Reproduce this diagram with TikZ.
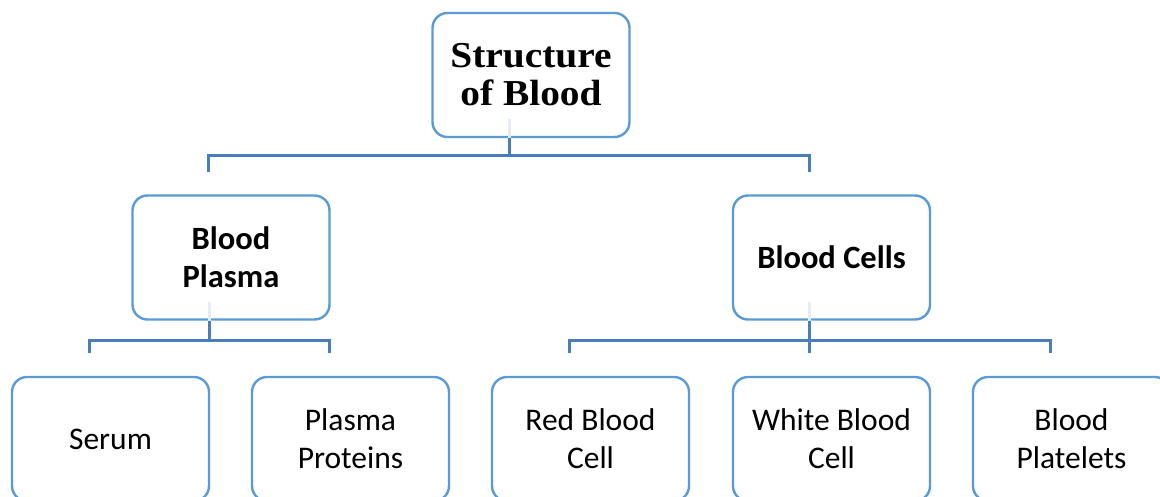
\documentclass[tikz,border=0pt]{standalone}
\usepackage{fontspec}
\setmainfont{Carlito}
\newfontfamily\titlefont[FakeStretch=1.08]{Liberation Serif}
\usetikzlibrary{calc}
\definecolor{boxblue}{HTML}{5B9BD5}
\definecolor{connblue}{HTML}{4A7EBB}
\definecolor{faintblue}{HTML}{E4ECF5}
\tikzset{
  box/.style={draw=boxblue, line width=2.4pt, rounded corners=15pt, fill=white,
    minimum width=197pt, minimum height=124pt, inner sep=0pt},
  conn/.style={draw=connblue, line width=3pt},
  faint/.style={draw=faintblue, line width=3pt},
  lab/.style={align=center, font=\fontsize{31.5}{38}\selectfont, text=black},
  blab/.style={align=center, font=\fontsize{32.5}{38}\selectfont\bfseries, text=black},
  tlab/.style={align=center, font=\titlefont\fontsize{36.5}{38}\selectfont\bfseries, text=black}
}
\begin{document}
\begin{tikzpicture}[x=1pt,y=-1pt]
\useasboundingbox (0,0) rectangle (1160,497);
\clip (0,0) rectangle (1160,497);
\fill[white] (0,0) rectangle (1160,497);
% boxes
\node[box] (top) at (531,75) {};
\node[box] (bp) at (231,257.5) {};
\node[box] (bc) at (831.5,257.5) {};
\node[box] (se) at (110.5,439) {};
\node[box] (pp) at (350.5,439) {};
\node[box] (rb) at (590.5,439) {};
\node[box] (wb) at (831.5,439) {};
\node[box] (pl) at (1071.5,439) {};
% labels
\node[tlab] at (top.center) {Structure\\of Blood};
\node[blab] at (bp.center) {Blood\\Plasma};
\node[blab] at (bc.center) {Blood Cells};
\node[lab] at (se.center) {Serum};
\node[lab] at (pp.center) {Plasma\\Proteins};
\node[lab] at (rb.center) {Red Blood\\Cell};
\node[lab] at (wb.center) {White Blood\\Cell};
\node[lab] at (pl.center) {Blood\\Platelets};
% connector coordinates
\coordinate (t1) at ($(top.south)+(-22,0)$);
\coordinate (h1) at (509,156);
\coordinate (bpd) at ($(bp.north)+(-23,-22)$);
\coordinate (bcd) at ($(bc.north)+(-22,-22)$);
\coordinate (b2) at ($(bp.south)+(-22,0)$);
\coordinate (c2) at ($(bc.south)+(-22,0)$);
\coordinate (sed) at ($(se.north)+(-21,-23)$);
\coordinate (ppd) at ($(pp.north)+(-21,-23)$);
\coordinate (rbd) at ($(rb.north)+(-21,-23)$);
\coordinate (wbd) at ($(wb.north)+(-22,-23)$);
\coordinate (pld) at ($(pl.north)+(-21,-23)$);
% faint stubs inside boxes
\draw[faint] ($(t1)+(0,-19)$) -- (t1);
\draw[faint] ($(b2)+(0,-19)$) -- (b2);
\draw[faint] ($(c2)+(0,-19)$) -- (c2);
% level 1
\draw[conn] (t1) -- (h1);
\draw[conn] (bpd) |- (h1) -| (bcd);
% level 2 left
\draw[conn] (b2) -- (b2 |- 0,340);
\draw[conn] (sed) |- (b2 |- 0,340) -| (ppd);
% level 2 right
\draw[conn] (c2) -- (wbd);
\draw[conn] (rbd) |- (c2 |- 0,340) -| (pld);
\end{tikzpicture}
\end{document}
